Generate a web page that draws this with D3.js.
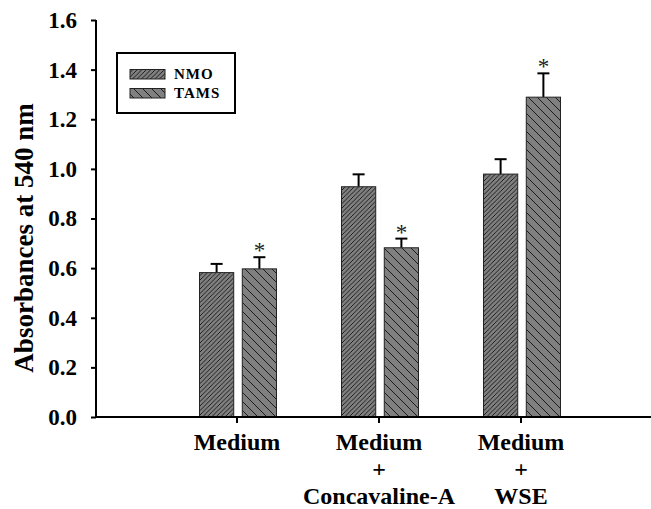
<!DOCTYPE html>
<html><head><meta charset="utf-8">
<script src="https://cdn.jsdelivr.net/npm/d3@7"></script>
<style>body{margin:0;background:#fff}svg{display:block}svg text,svg tspan{font-family:'Liberation Serif','Times New Roman',serif !important;font-weight:bold}</style>
</head><body><svg id="c" width="651" height="509"></svg>
<script>
const FONT = "'Liberation Serif', 'Times New Roman', serif";
const categories = ["Medium", "Medium + Concavaline-A", "Medium + WSE"];
const categoryLines = [["Medium"], ["Medium", "+", "Concavaline-A"], ["Medium", "+", "WSE"]];
const series = ["NMO", "TAMS"];
const nmoValues = [0.582, 0.928, 0.979];
const nmoErrors = [0.035, 0.05, 0.06];
const tamsValues = [0.597, 0.682, 1.289];
const tamsErrors = [0.047, 0.037, 0.096];
const tamsStars = [true, true, true];
const yTicks = [0, 0.2, 0.4, 0.6, 0.8, 1.0, 1.2, 1.4, 1.6];

const svg = d3.select("#c");
const defs = svg.append("defs");
function hatch(id, step, dir) {
  const p = defs.append("pattern").attr("id", id).attr("patternUnits", "userSpaceOnUse")
    .attr("width", step).attr("height", step);
  p.append("rect").attr("width", step).attr("height", step).attr("fill", "#808080");
  const d = dir > 0
    ? `M0,${step} L${step},0 M${-step/2},${step/2} L${step/2},${-step/2} M${step/2},${step*1.5} L${step*1.5},${step/2}`
    : `M0,0 L${step},${step} M${-step/2},${step/2} L${step/2},${step*1.5} M${step/2},${-step/2} L${step*1.5},${step/2}`;
  p.append("path").attr("d", d).attr("stroke", "#111").attr("stroke-width", 0.9).attr("fill", "none");
}
hatch("hNMO", 4.5, 1);
hatch("hTAMS", 9, -1);
const fills = {NMO: "url(#hNMO)", TAMS: "url(#hTAMS)"};

const y = d3.scaleLinear().domain([0, 1.6]).range([417, 20]);
const x0 = d3.scaleBand().domain(categories).range([166, 592]);
const x1 = d3.scaleBand().domain(series).range([-37.5, 39.5]).paddingInner(0.2);

const data = categories.map((c, i) => ({
  cat: c,
  bars: [
    {s: "NMO", v: nmoValues[i], e: nmoErrors[i], star: false},
    {s: "TAMS", v: tamsValues[i], e: tamsErrors[i], star: tamsStars[i]}
  ]
}));

const g = svg.append("g");
const grp = g.selectAll("g.cat").data(data).join("g")
  .attr("transform", d => `translate(${x0(d.cat) + x0.bandwidth() / 2},0)`);

grp.selectAll("g.err").data(d => d.bars).join("g").each(function(b) {
  const cx = x1(b.s) + x1.bandwidth() / 2;
  const sel = d3.select(this);
  sel.append("line").attr("x1", cx).attr("x2", cx).attr("y1", y(b.v)).attr("y2", y(b.v + b.e))
    .attr("stroke", "#000").attr("stroke-width", 2);
  sel.append("line").attr("x1", cx - 6).attr("x2", cx + 6).attr("y1", y(b.v + b.e)).attr("y2", y(b.v + b.e))
    .attr("stroke", "#000").attr("stroke-width", 2);
  if (b.star) {
    sel.append("text").attr("x", cx).attr("y", y(b.v + b.e) + 1).attr("text-anchor", "middle")
      .attr("font-size", 23).attr("fill", "#222").style("font-weight", "normal").text("*");
  }
});

grp.selectAll("rect").data(d => d.bars).join("rect")
  .attr("x", b => x1(b.s)).attr("width", x1.bandwidth())
  .attr("y", b => y(b.v)).attr("height", b => y(0) - y(b.v))
  .attr("fill", b => fills[b.s]).attr("stroke", "#222").attr("stroke-width", 1);

const yAxis = d3.axisLeft(y).tickValues(yTicks).tickFormat(d3.format(".1f")).tickSize(5).tickPadding(14);
const ya = svg.append("g").attr("transform", "translate(96,0)").call(yAxis)
  .attr("font-family", FONT).attr("font-size", 23);
ya.select(".domain").attr("stroke", "#000").attr("stroke-width", 2).attr("d", `M0,${y(1.6)}V${y(0)}`);
ya.selectAll(".tick line").attr("stroke", "#000").attr("stroke-width", 2);
ya.selectAll(".tick text").attr("font-size", 23).attr("fill", "#000");

const xa = svg.append("g").attr("transform", `translate(0,${y(0)})`);
xa.append("line").attr("x1", 95).attr("x2", 651).attr("y1", 0).attr("y2", 0).attr("stroke", "#000").attr("stroke-width", 2);
xa.selectAll("line.t").data(categories).join("line").attr("class", "t")
  .attr("x1", d => x0(d) + x0.bandwidth() / 2).attr("x2", d => x0(d) + x0.bandwidth() / 2)
  .attr("y1", 0).attr("y2", 6).attr("stroke", "#000").attr("stroke-width", 2);
categories.forEach((c, i) => {
  categoryLines[i].forEach((t, j) => {
    xa.append("text").attr("x", x0(c) + x0.bandwidth() / 2).attr("y", 33 + j * 27)
      .attr("text-anchor", "middle").attr("font-size", 24).text(t);
  });
});

svg.append("text").attr("transform", "translate(33,238) rotate(-90)").attr("text-anchor", "middle")
  .attr("font-size", 27).text("Absorbances at 540 nm");

const lg = svg.append("g");
lg.append("rect").attr("x", 117).attr("y", 53).attr("width", 118).attr("height", 60)
  .attr("fill", "#fff").attr("stroke", "#000").attr("stroke-width", 2);
series.forEach((s, i) => {
  const yy = 69.5 + i * 19;
  lg.append("rect").attr("x", 130).attr("y", yy).attr("width", 35).attr("height", 9.5)
    .attr("fill", fills[s]).attr("stroke", "#222").attr("stroke-width", 1);
  lg.append("text").attr("x", 174).attr("y", yy + 9.5)
    .attr("font-size", 15).attr("letter-spacing", 1).text(s);
});
</script></body></html>
